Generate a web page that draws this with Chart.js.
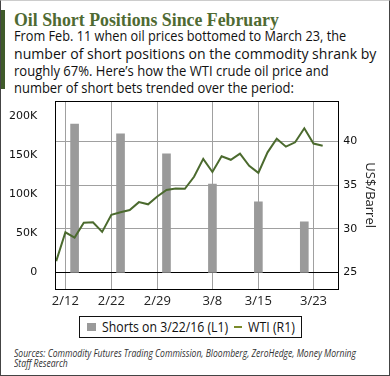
<!DOCTYPE html>
<html>
<head>
<meta charset="utf-8">
<script src="https://cdn.jsdelivr.net/npm/chart.js@4.4.1/dist/chart.umd.min.js"></script>
<style>
  html, body { margin: 0; padding: 0; background: #fff; }
  #frame { position: relative; width: 390px; height: 376px; box-sizing: border-box;
           border: 1px solid #444; border-top-color: #ccc; overflow: hidden; }
  .fit { position: absolute; left: 13px; white-space: nowrap; transform-origin: 0 0; }
  #bar { position: absolute; left: 0; top: 9px; width: 4px; height: 79px; background: #3f5a2a; }
  #title { top: 8.6px; font: bold 19px "Liberation Serif", serif; line-height: 20px; color: #4f6a32; }
  .sub { font: 15px "Open Sans", sans-serif; line-height: 17.4px; color: #111; }
  .src { font: italic 10px "Open Sans", sans-serif; line-height: 10px; color: #333; }
  #chartBox { position: absolute; left: -1px; top: 94px; width: 390px; height: 215px; }
  #legend { position: absolute; left: 78px; top: 315px; width: 223px; height: 22px;
            box-sizing: border-box; border: 1px solid #111; }
  .lg { position: absolute; top: -1px; font: 15px "Open Sans", sans-serif; line-height: 21px; color: #111; }
  #sq { position: absolute; left: 7px; top: 6px; width: 9px; height: 8px; background: #9a9a9a; }
  #dash { position: absolute; left: 154px; top: 9px; width: 8px; height: 2px; background: #7a8a2a; }
</style>
</head>
<body>
<div id="frame">
  <div id="bar"></div>
  <div id="title" class="fit" data-w="265">Oil Short Positions Since February</div>
  <div class="fit sub" style="top:25.5px" data-w="332">From Feb. 11 when oil prices bottomed to March 23, the</div>
  <div class="fit sub" style="top:43.8px" data-w="362">number of short positions on the commodity shrank by</div>
  <div class="fit sub" style="top:60.8px" data-w="315">roughly 67%. Here’s how the WTI crude oil price and</div>
  <div class="fit sub" style="top:77.8px" data-w="280">number of short bets trended over the period:</div>

  <div id="chartBox"><canvas id="oilChart"></canvas></div>

  <div id="legend">
    <div id="sq"></div>
    <div class="fit lg" style="left:22px" data-w="126">Shorts on 3/22/16 (L1)</div>
    <div id="dash"></div>
    <div class="fit lg" style="left:168px" data-w="47">WTI (R1)</div>
  </div>

  <div class="fit src" style="top:346.8px" data-w="342">Sources: Commodity Futures Trading Commission, Bloomberg, ZeroHedge, Money Morning</div>
  <div class="fit src" style="top:356.8px" data-w="54">Staff Research</div>
</div>

<script>
// Trading days from the Feb. 11 bottom, WTI close (US$/barrel)
const tradingDays = ['2/11', '2/12', '2/16', '2/17', '2/18', '2/19', '2/22', '2/23', '2/24', '2/25',
    '2/26', '2/29', '3/1', '3/2', '3/3', '3/4', '3/7', '3/8', '3/9', '3/10',
    '3/11', '3/14', '3/15', '3/16', '3/17', '3/18', '3/21', '3/22', '3/23', '3/24'];
const wtiPrice = [26.3, 29.6, 29.0, 30.7, 30.75, 29.65, 31.6, 31.9, 32.15, 33.05,
    32.8, 33.7, 34.45, 34.6, 34.57, 35.95, 38.0, 36.5, 38.3, 37.9,
    38.6, 37.2, 36.4, 38.75, 40.3, 39.4, 39.9, 41.5, 39.75, 39.5];

// Weekly short positions (CFTC, Tuesdays)
const shortDays = ['2/16', '2/23', '3/1', '3/8', '3/15', '3/22'];
const shortPositions = [189400, 177000, 151500, 112900, 90300, 64800];

// Axis ticks
const xTickDays = ['2/12', '2/22', '2/29', '3/8', '3/15', '3/23'];
const leftTicks = [0, 50000, 100000, 150000, 200000];
const rightTicks = [25, 30, 35, 40];

function fitText() {
    document.querySelectorAll('.fit').forEach(function(el) {
        const w = parseFloat(el.dataset.w);
        const actual = el.scrollWidth;
        if (w && actual) el.style.transform = 'scaleX(' + (w / actual) + ')';
    });
}
document.fonts.ready.then(fitText);

// fixed scale sizes, no extra padding for edge labels
function fixSize(prop, size) {
    return function(s) {
        s[prop] = size;
        s.paddingTop = s.paddingBottom = s.paddingLeft = s.paddingRight = 0;
    };
}

const plotBorder = {
    id: 'plotBorder',
    afterDraw(chart) {
        const a = chart.chartArea;
        const c = chart.ctx;
        c.save();
        c.strokeStyle = '#000';
        c.lineWidth = 1;
        c.strokeRect(Math.round(a.left) + 0.5, Math.round(a.top) + 0.5,
            Math.round(a.right - a.left), Math.round(a.bottom - a.top));
        c.restore();
    }
};

document.addEventListener('DOMContentLoaded', function() {
    const ctx = document.getElementById('oilChart');
    new Chart(ctx, {
        data: {
            datasets: [{
                type: 'line',
                label: 'WTI (R1)',
                data: wtiPrice.map((v, i) => ({ x: i, y: v })),
                yAxisID: 'yR',
                borderColor: '#4b6a2e',
                borderWidth: 2,
                pointRadius: 0,
                tension: 0,
                order: 0
            }, {
                type: 'bar',
                label: 'Shorts on 3/22/16 (L1)',
                data: shortPositions.map((v, i) => ({ x: tradingDays.indexOf(shortDays[i]), y: v })),
                yAxisID: 'yL',
                backgroundColor: '#9a9a9a',
                barThickness: 8,
                order: 1
            }]
        },
        options: {
            responsive: true,
            maintainAspectRatio: false,
            animation: false,
            layout: { autoPadding: false, padding: { top: 6.3, left: 0, right: 0, bottom: 0 } },
            plugins: {
                legend: { display: false },
                tooltip: { enabled: false }
            },
            scales: {
                x: {
                    type: 'linear',
                    offset: false,
                    min: -0.1,
                    max: 30.7,
                    afterBuildTicks: s => { s.ticks = xTickDays.map(d => ({ value: tradingDays.indexOf(d) })); },
                    afterFit: fixSize('height', 21),
                    grid: { color: '#a0a0a0', drawTicks: false, offset: false },
                    border: { color: '#000' },
                    ticks: {
                        padding: 4,
                        color: '#222',
                        font: { family: 'Open Sans', size: 13 },
                        callback: v => tradingDays[v]
                    }
                },
                yL: {
                    position: 'left',
                    min: -21000,
                    max: 218400,
                    afterBuildTicks: s => { s.ticks = leftTicks.map(v => ({ value: v })); },
                    afterFit: fixSize('width', 55.3),
                    grid: { display: false },
                    border: { color: '#000' },
                    ticks: {
                        padding: 10,
                        color: '#111',
                        font: { family: 'DejaVu Sans', size: 11 },
                        callback: v => v === 0 ? '0' : (v / 1000) + 'K'
                    }
                },
                yR: {
                    position: 'right',
                    min: 23.11,
                    max: 44.59,
                    afterBuildTicks: s => { s.ticks = rightTicks.map(v => ({ value: v })); },
                    afterFit: fixSize('width', 51.7),
                    grid: {
                        drawTicks: false,
                        color: c => (c.tick && c.tick.value === 25) ? '#000' : '#a0a0a0'
                    },
                    border: { color: '#000' },
                    ticks: {
                        padding: 5,
                        color: '#111',
                        font: { family: 'DejaVu Sans', size: 11 }
                    },
                    title: {
                        display: true,
                        text: 'US$/Barrel',
                        color: '#222',
                        font: { family: 'Open Sans', size: 13 },
                        padding: { top: 12 }
                    }
                }
            }
        },
        plugins: [plotBorder]
    });
});
</script>
</body>
</html>
